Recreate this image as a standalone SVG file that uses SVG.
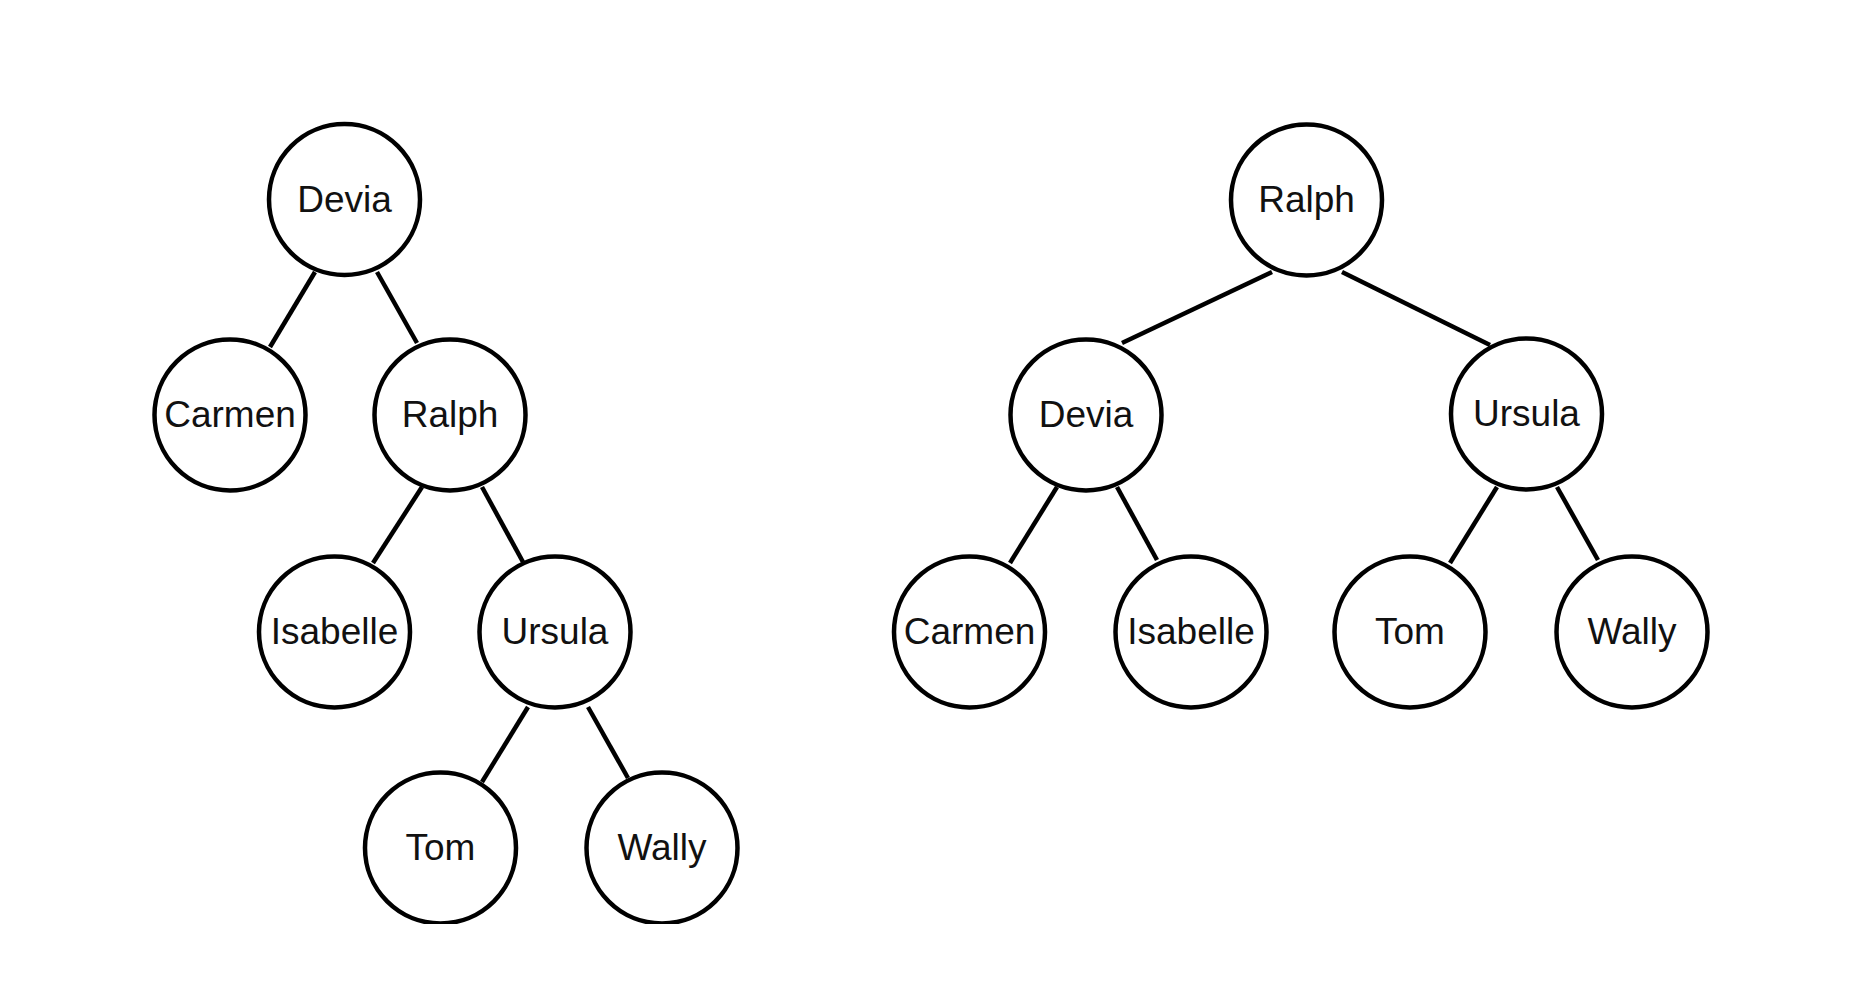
<svg xmlns="http://www.w3.org/2000/svg" width="1866" height="1000" viewBox="0 0 1866 1000">
<style>
.n circle{fill:#fff;stroke:#000;stroke-width:4.5}
.n text{font-family:"Liberation Sans",Arial,sans-serif;font-size:37px;fill:#111;text-anchor:middle}
#edges line{stroke:#000;stroke-width:4.5;stroke-linecap:butt}
</style>
<defs><clipPath id="clip"><rect x="0" y="0" width="1866" height="924"/></clipPath></defs>
<rect width="1866" height="1000" fill="#fff"/>
<g clip-path="url(#clip)">
<g id="edges">
<line x1="315" y1="272" x2="270" y2="347"/>
<line x1="377" y1="272" x2="417" y2="343"/>
<line x1="422" y1="487" x2="373" y2="563"/>
<line x1="482" y1="487" x2="523" y2="562"/>
<line x1="528" y1="707" x2="482" y2="782"/>
<line x1="588" y1="707" x2="628" y2="778"/>
<line x1="1272" y1="272" x2="1122" y2="343"/>
<line x1="1342" y1="272" x2="1490" y2="345"/>
<line x1="1057" y1="487" x2="1010" y2="563"/>
<line x1="1117" y1="487" x2="1157" y2="560"/>
<line x1="1497" y1="487" x2="1450" y2="563"/>
<line x1="1557" y1="487" x2="1598" y2="560"/>
</g>
<g id="L-Devia" class="n"><circle cx="344.5" cy="199.5" r="75.5"/><text x="344.5" y="211.5">Devia</text></g>
<g id="L-Carmen" class="n"><circle cx="230" cy="415" r="75.5"/><text x="230" y="427">Carmen</text></g>
<g id="L-Ralph" class="n"><circle cx="450" cy="415" r="75.5"/><text x="450" y="427">Ralph</text></g>
<g id="L-Isabelle" class="n"><circle cx="334.5" cy="632" r="75.5"/><text x="334.5" y="644">Isabelle</text></g>
<g id="L-Ursula" class="n"><circle cx="555" cy="632" r="75.5"/><text x="555" y="644">Ursula</text></g>
<g id="L-Tom" class="n"><circle cx="440.5" cy="848" r="75.5"/><text x="440.5" y="860">Tom</text></g>
<g id="L-Wally" class="n"><circle cx="662" cy="848" r="75.5"/><text x="662" y="860">Wally</text></g>
<g id="R-Ralph" class="n"><circle cx="1306.5" cy="200" r="75.5"/><text x="1306.5" y="212">Ralph</text></g>
<g id="R-Devia" class="n"><circle cx="1086" cy="415" r="75.5"/><text x="1086" y="427">Devia</text></g>
<g id="R-Ursula" class="n"><circle cx="1526.5" cy="414" r="75.5"/><text x="1526.5" y="426">Ursula</text></g>
<g id="R-Carmen" class="n"><circle cx="969.5" cy="632" r="75.5"/><text x="969.5" y="644">Carmen</text></g>
<g id="R-Isabelle" class="n"><circle cx="1191" cy="632" r="75.5"/><text x="1191" y="644">Isabelle</text></g>
<g id="R-Tom" class="n"><circle cx="1410" cy="632" r="75.5"/><text x="1410" y="644">Tom</text></g>
<g id="R-Wally" class="n"><circle cx="1632" cy="632" r="75.5"/><text x="1632" y="644">Wally</text></g>
</g>
</svg>
